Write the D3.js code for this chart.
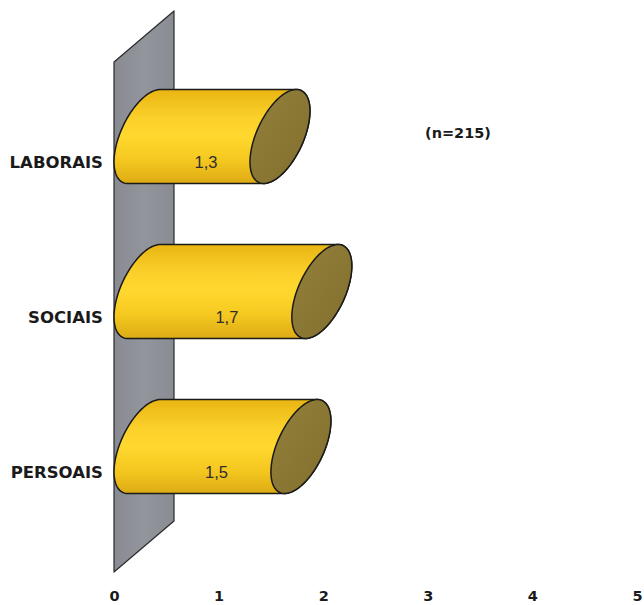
<!DOCTYPE html>
<html>
<head>
<meta charset="utf-8">
<script src="https://cdn.jsdelivr.net/npm/d3@7"></script>
<style>
  html, body { margin: 0; padding: 0; background: #fff; }
  svg { display: block; }
</style>
</head>
<body>
<svg id="chart" width="644" height="605"></svg>
<script>
// Mean scores by dimension
const categories = ["LABORAIS", "SOCIAIS", "PERSOAIS"];
const values = [1.3, 1.7, 1.5];
const valueLabels = ["1,3", "1,7", "1,5"];
const tickValues = [0, 1, 2, 3, 4, 5];
const sampleNote = "(n=215)";

const svg = d3.select("#chart");

// Oblique 3D projection: depth runs up and to the right
const depth = { dx: 60, dy: -51 };
const radius = 39.5; // vertical radius of each cylinder, px

const x = d3.scaleLinear().domain([0, 5]).range([114, 637]);
const y = d3.scaleBand().domain(categories).range([62, 572]).paddingOuter(0.145).paddingInner(0);

const defs = svg.append("defs");
const bodyGrad = defs.append("linearGradient")
  .attr("id", "cylBody").attr("x1", 0).attr("y1", 0).attr("x2", 0).attr("y2", 1);
[[0, "#e9b512"], [0.3, "#fbd02a"], [0.5, "#ffd82e"], [0.75, "#f5c820"], [1, "#dcab14"]]
  .forEach(([o, c]) => bodyGrad.append("stop").attr("offset", o).attr("stop-color", c));

const capGrad = defs.append("linearGradient")
  .attr("id", "cylCap").attr("x1", 0).attr("y1", 0).attr("x2", 1).attr("y2", 1);
[[0, "#93803a"], [1, "#826f2e"]]
  .forEach(([o, c]) => capGrad.append("stop").attr("offset", o).attr("stop-color", c));

const wallGrad = defs.append("linearGradient")
  .attr("id", "wall").attr("x1", 0).attr("y1", 0).attr("x2", 1).attr("y2", 0);
[[0, "#898b93"], [0.5, "#93959c"], [1, "#8a8c94"]]
  .forEach(([o, c]) => wallGrad.append("stop").attr("offset", o).attr("stop-color", c));

// Side wall at value 0
const [y0, y1] = y.range();
const wallPts = [
  [x(0), y0], [x(0) + depth.dx, y0 + depth.dy],
  [x(0) + depth.dx, y1 + depth.dy], [x(0), y1]
];
svg.append("path")
  .attr("d", d3.line()(wallPts) + "Z")
  .attr("fill", "url(#wall)")
  .attr("stroke", "#2a2a2a")
  .attr("stroke-width", 1.2)
  .attr("stroke-linejoin", "round");

// Ellipse outline of a cylinder cross-section at a given value
function ellipsePoints(v, cat, n = 72) {
  const cx = x(v) + depth.dx / 2;
  const cy = y(cat) + y.bandwidth() / 2 + depth.dy / 2;
  return d3.range(n).map(i => {
    const t = (i / n) * 2 * Math.PI;
    return [cx + (depth.dx / 2) * Math.sin(t),
            cy + radius * Math.cos(t) + (depth.dy / 2) * Math.sin(t)];
  });
}

const bars = svg.append("g").selectAll("g")
  .data(categories.map((c, i) => ({ cat: c, value: values[i], label: valueLabels[i] })))
  .join("g");

bars.append("path")
  .attr("d", d => {
    const hull = d3.polygonHull(ellipsePoints(0, d.cat).concat(ellipsePoints(d.value, d.cat)));
    return d3.line().curve(d3.curveLinearClosed)(hull);
  })
  .attr("fill", "url(#cylBody)")
  .attr("stroke", "#1a1a1a")
  .attr("stroke-width", 1.5)
  .attr("stroke-linejoin", "round");

bars.append("path")
  .attr("d", d => d3.line().curve(d3.curveLinearClosed)(ellipsePoints(d.value, d.cat)))
  .attr("fill", "url(#cylCap)")
  .attr("stroke", "#1a1a1a")
  .attr("stroke-width", 1.5);

bars.append("text")
  .attr("x", d => x(d.value / 2) + 24)
  .attr("y", d => y(d.cat) + y.bandwidth() / 2)
  .attr("dy", "0.36em")
  .attr("text-anchor", "middle")
  .attr("font-family", "'Liberation Sans', Arial, sans-serif")
  .attr("font-size", 16.5)
  .attr("fill", "#2e2e2e")
  .text(d => d.label);

// Category labels
svg.append("g").selectAll("text")
  .data(categories)
  .join("text")
  .attr("x", 103)
  .attr("y", d => y(d) + y.bandwidth() / 2)
  .attr("dy", "0.36em")
  .attr("text-anchor", "end")
  .attr("font-family", "'DejaVu Sans', Verdana, sans-serif")
  .attr("font-weight", "bold")
  .attr("font-size", 16.5)
  .attr("fill", "#1a1a1a")
  .text(d => d);

// Value axis (tick labels only)
const axis = svg.append("g")
  .attr("transform", "translate(0,591)")
  .call(d3.axisBottom(x).tickValues(tickValues).tickSize(0).tickPadding(0).tickFormat(d3.format("d")));
axis.select(".domain").remove();
axis.selectAll("text")
  .attr("font-family", "'DejaVu Sans', Verdana, sans-serif")
  .attr("font-weight", "bold")
  .attr("font-size", 14.5)
  .attr("fill", "#1a1a1a");

// Sample size note
svg.append("text")
  .attr("x", 458)
  .attr("y", 133)
  .attr("dy", "0.36em")
  .attr("text-anchor", "middle")
  .attr("font-family", "'DejaVu Sans', Verdana, sans-serif")
  .attr("font-weight", "bold")
  .attr("font-size", 14.5)
  .attr("fill", "#1a1a1a")
  .text(sampleNote);
</script>
</body>
</html>
